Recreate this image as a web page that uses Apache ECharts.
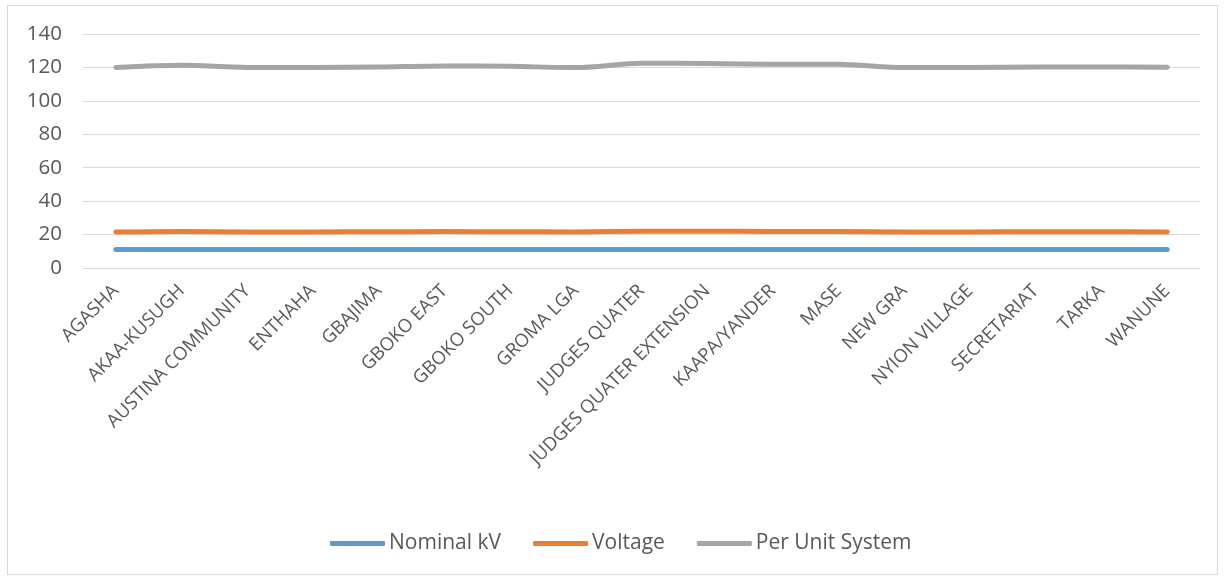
<!DOCTYPE html>
<html>
<head>
<meta charset="utf-8">
<title>Nominal kV, Voltage and Per Unit System by location</title>
<script src="https://cdn.jsdelivr.net/npm/echarts@6/dist/echarts.min.js"></script>
<style>
  html, body { margin: 0; padding: 0; background: #ffffff; }
  #frame {
    position: absolute; left: 7px; top: 5px; width: 1211px; height: 570px;
    border: 1px solid #D9D9D9; box-sizing: border-box;
  }
  #chart { position: absolute; left: 0; top: 0; width: 1225px; height: 577px; }
</style>
</head>
<body>
<div id="frame"></div>
<div id="chart"></div>
<script>
// Locations along the feeder
const categories = [
  'AGASHA', 'AKAA-KUSUGH', 'AUSTINA COMMUNITY', 'ENTHAHA', 'GBAJIMA',
  'GBOKO EAST', 'GBOKO SOUTH', 'GROMA LGA', 'JUDGES QUATER',
  'JUDGES QUATER EXTENSION', 'KAAPA/YANDER', 'MASE', 'NEW GRA',
  'NYION VILLAGE', 'SECRETARIAT', 'TARKA', 'WANUNE'
];

const nominalKV = [11, 11, 11, 11, 11, 11, 11, 11, 11, 11, 11, 11, 11, 11, 11, 11, 11];
const voltage = [21.6, 21.8, 21.6, 21.6, 21.7, 21.8, 21.7, 21.6, 22.0, 22.0, 21.9, 21.9, 21.6, 21.6, 21.7, 21.7, 21.6];
const perUnitSystem = [120, 121.3, 120, 120, 120.3, 120.9, 120.7, 119.9, 122.5, 122.3, 121.9, 121.9, 119.9, 120, 120.3, 120.3, 120.1];

const yTicks = { min: 0, max: 140, interval: 20 };

const textColor = '#595959';
const fontFamily = '"Open Sans", "Liberation Sans", sans-serif';

function lineSeries(name, data, color) {
  return {
    name: name,
    type: 'line',
    data: data,
    smooth: 0.3,
    symbol: 'none',
    lineStyle: { color: color, width: 5, cap: 'round', join: 'round' },
    itemStyle: { color: color },
    emphasis: { disabled: true }
  };
}

const chart = echarts.init(document.getElementById('chart'), null, { renderer: 'canvas' });

chart.setOption({
  animation: false,
  textStyle: { fontFamily: fontFamily },
  grid: { left: 83, right: 25, top: 34, bottom: 309, containLabel: false },
  legend: {
    bottom: 18,
    left: 325,
    itemWidth: 55,
    itemHeight: 5,
    itemGap: 32,
    icon: 'roundRect',
    textStyle: { color: textColor, fontSize: 21, fontFamily: fontFamily, padding: [0, 0, 0, -1] },
    data: ['Nominal kV', 'Voltage', 'Per Unit System']
  },
  xAxis: {
    type: 'category',
    data: categories,
    boundaryGap: true,
    axisLine: { show: false },
    axisTick: { show: false },
    axisLabel: {
      interval: 0,
      rotate: 45,
      margin: 20,
      color: textColor,
      fontSize: 18.5,
      fontFamily: fontFamily
    },
    splitLine: { show: false }
  },
  yAxis: {
    type: 'value',
    min: yTicks.min,
    max: yTicks.max,
    interval: yTicks.interval,
    axisLine: { show: false },
    axisTick: { show: false },
    axisLabel: { color: textColor, fontSize: 20.5, margin: 21, fontFamily: fontFamily },
    splitLine: { lineStyle: { color: '#D9D9D9', width: 1 } }
  },
  series: [
    lineSeries('Nominal kV', nominalKV, '#5B9BD5'),
    lineSeries('Voltage', voltage, '#ED7D31'),
    lineSeries('Per Unit System', perUnitSystem, '#A5A5A5')
  ]
});
</script>
</body>
</html>
